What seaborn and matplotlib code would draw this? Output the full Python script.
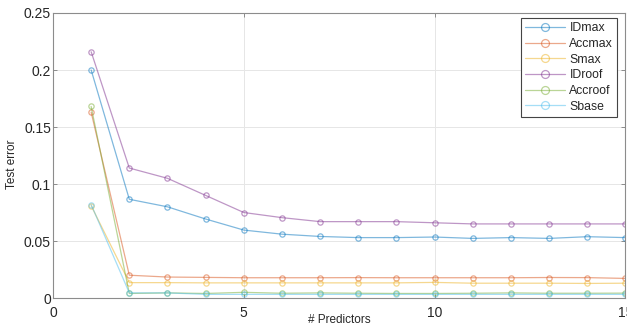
import numpy as np
import pandas as pd
import matplotlib
matplotlib.use("Agg")
import matplotlib.pyplot as plt
import seaborn as sns

predictors = list(range(1, 16))
series_names = ["IDmax", "Accmax", "Smax", "IDroof", "Accroof", "Sbase"]
IDmax = [0.200, 0.0866, 0.080, 0.0693, 0.0596, 0.056, 0.054, 0.053, 0.053, 0.0535, 0.0523, 0.053, 0.0523, 0.0538, 0.053]
Accmax = [0.163, 0.020, 0.0184, 0.0181, 0.0178, 0.0178, 0.0178, 0.0179, 0.0178, 0.0178, 0.0178, 0.0178, 0.0180, 0.0179, 0.0172]
Smax = [0.081, 0.0135, 0.0135, 0.0133, 0.0133, 0.0133, 0.0133, 0.0133, 0.0133, 0.0137, 0.0130, 0.0130, 0.0130, 0.0128, 0.0130]
IDroof = [0.216, 0.114, 0.105, 0.090, 0.075, 0.0705, 0.067, 0.067, 0.067, 0.066, 0.065, 0.065, 0.065, 0.065, 0.065]
Accroof = [0.168, 0.0040, 0.0045, 0.0040, 0.0050, 0.0042, 0.0045, 0.0042, 0.0040, 0.0040, 0.0042, 0.0045, 0.0042, 0.0042, 0.0043]
Sbase = [0.082, 0.0045, 0.0045, 0.0032, 0.0032, 0.0032, 0.0032, 0.0032, 0.0032, 0.0032, 0.0032, 0.0032, 0.0032, 0.0032, 0.0032]
values = [IDmax, Accmax, Smax, IDroof, Accroof, Sbase]
colors = ["#0072BD", "#D95319", "#EDB120", "#7E2F8E", "#77AC30", "#4DBEEE"]

df = pd.DataFrame({
    "x": np.tile(predictors, len(series_names)),
    "y": np.concatenate(values),
    "series": np.repeat(series_names, len(predictors)),
})

sns.set_theme(style="white")
plt.rcParams["font.family"] = ["Liberation Sans", "DejaVu Sans"]

fig = plt.figure(figsize=(6.27, 3.25), dpi=100)
ax = fig.add_axes([0.0845, 0.083, 0.913, 0.877])

for name, col in zip(series_names, colors):
    sub = df[df["series"] == name]
    sns.lineplot(data=sub, x="x", y="y", ax=ax, color=col, alpha=0.5,
                 linewidth=0.9, marker="o", markersize=3.8,
                 markerfacecolor="none", markeredgecolor=col,
                 markeredgewidth=0.9, label=name, estimator=None)

ax.set_xlim(0, 15)
ax.set_ylim(0, 0.25)
ax.set_xticks([0, 5, 10, 15])
ax.set_yticks([0, 0.05, 0.1, 0.15, 0.2, 0.25])
ax.set_yticklabels(["0", "0.05", "0.1", "0.15", "0.2", "0.25"])
ax.grid(True, color="#e6e6e6", linewidth=0.7)
ax.set_axisbelow(True)
for sp in ax.spines.values():
    sp.set_color("#8c8c8c")
    sp.set_linewidth(0.8)
ax.tick_params(axis="both", direction="in", length=3, width=0.7, color="#8c8c8c",
               labelsize=10, labelcolor="#262626", top=True, right=True, bottom=True, left=True)
ax.tick_params(axis="y", pad=1.5)
ax.tick_params(axis="x", pad=5.5)
ax.set_xlabel("# Predictors", fontsize=8.5, color="#262626", labelpad=-4)
ax.set_ylabel("Test error", fontsize=8.5, color="#262626", labelpad=5)
ax.yaxis.set_label_coords(-0.061, 0.47)

leg = ax.legend(loc="upper right", fontsize=8.8, frameon=True, fancybox=False,
                framealpha=1, edgecolor="#444444", handlelength=3.3,
                borderpad=0.35, labelspacing=0.3, handletextpad=0.35,
                markerscale=1.5, borderaxespad=0,
                bbox_to_anchor=(0.986, 0.982))
leg.get_frame().set_linewidth(0.8)

fig.savefig("out.png", dpi=100)
